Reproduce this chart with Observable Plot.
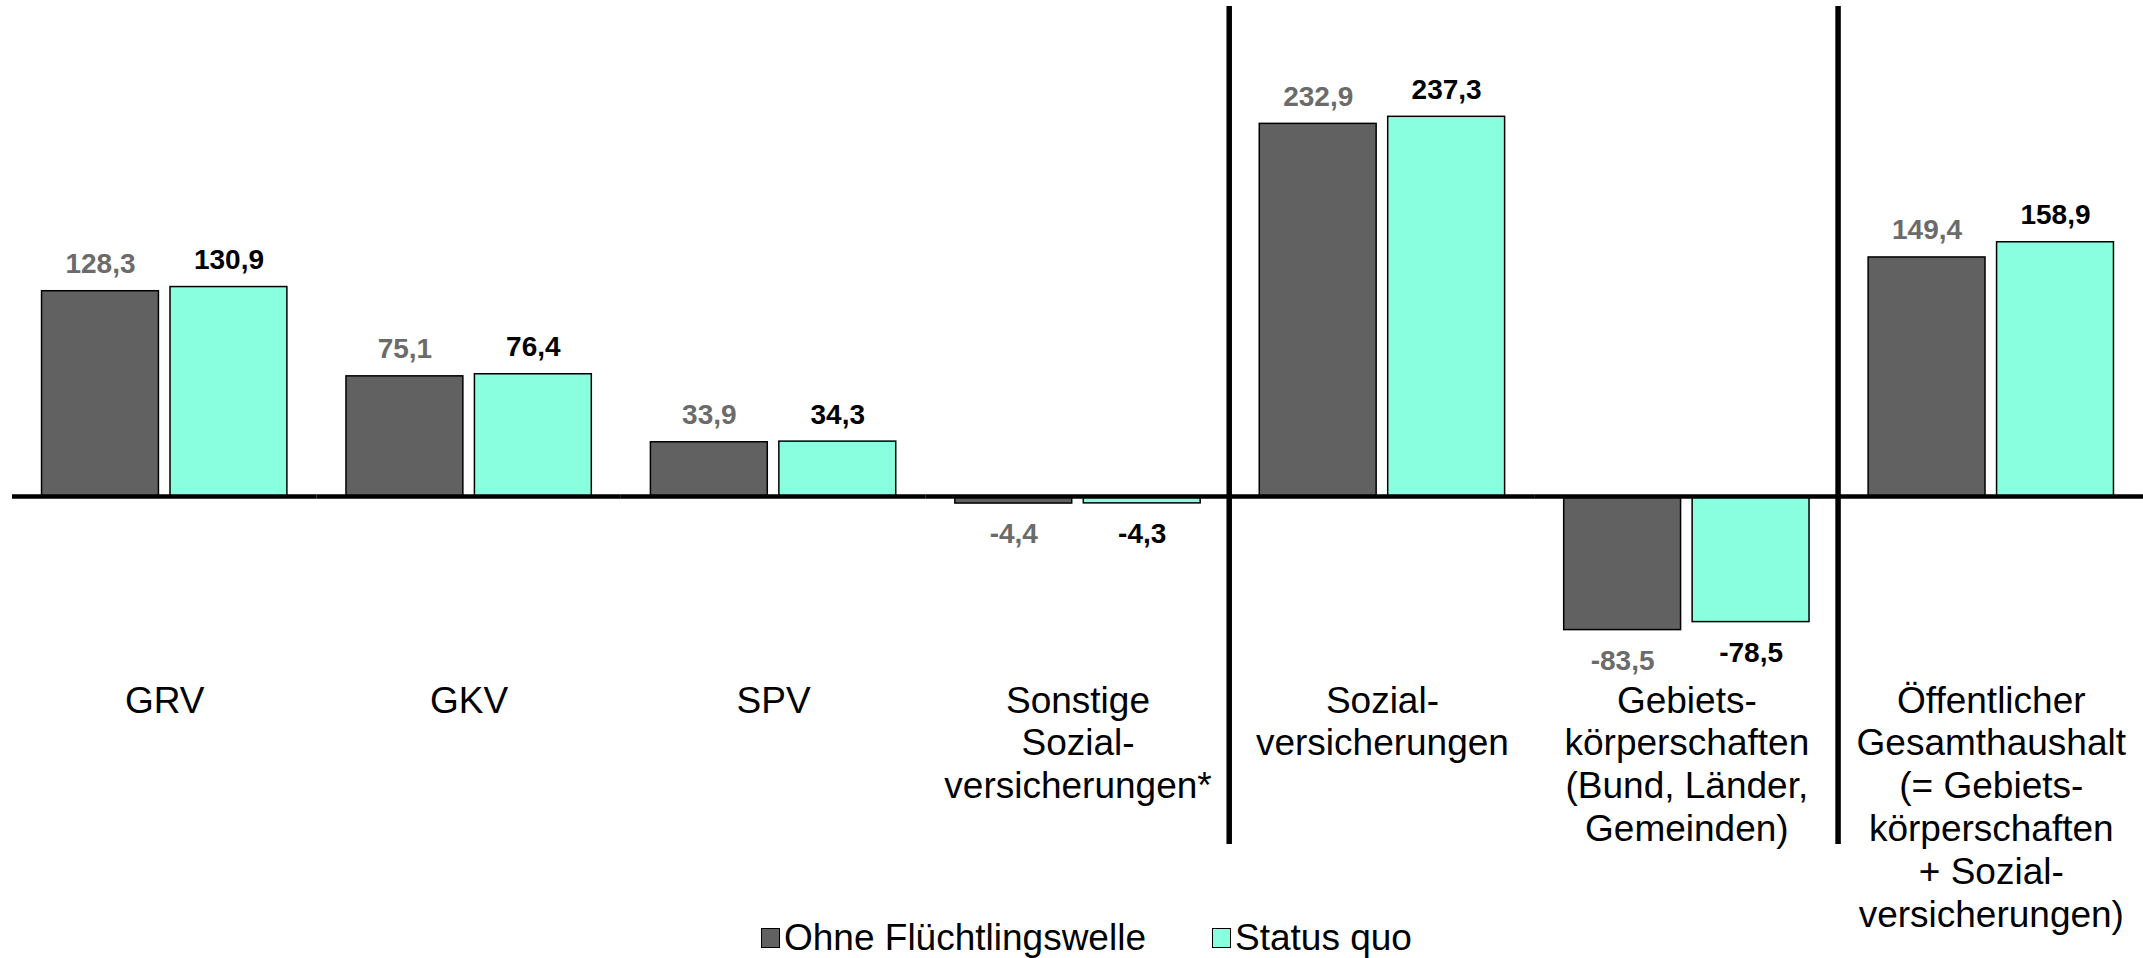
<!DOCTYPE html>
<html>
<head>
<meta charset="utf-8">
<script src="https://cdn.jsdelivr.net/npm/d3@7"></script>
<script src="https://cdn.jsdelivr.net/npm/@observablehq/plot@0.6"></script>
<style>
  html, body { margin: 0; padding: 0; background: #ffffff; }
  #wrap { position: relative; width: 2143px; height: 958px; overflow: hidden; font-family: "Liberation Sans", Arial, sans-serif; }
  #wrap svg { position: absolute; left: 0; top: 0; overflow: visible; }
  .legend-item { position: absolute; top: 919px; display: flex; align-items: center; font-size: 37px; line-height: 37px; color: #000; white-space: nowrap; }
  .legend-swatch { width: 17px; height: 18px; border: 1.5px solid #000; margin-right: 4px; box-sizing: content-box; }
</style>
</head>
<body>
<div id="wrap"></div>
<script>
// ---- Data ----
const categories = [
  "GRV",
  "GKV",
  "SPV",
  "Sonstige\nSozial-\nversicherungen*",
  "Sozial-\nversicherungen",
  "Gebiets-\nkörperschaften\n(Bund, Länder,\nGemeinden)",
  "Öffentlicher\nGesamthaushalt\n(= Gebiets-\nkörperschaften\n+ Sozial-\nversicherungen)"
];
const series = ["Ohne Flüchtlingswelle", "Status quo"];
const ohneFluechtlingswelle = [128.3, 75.1, 33.9, -4.4, 232.9, -83.5, 149.4];
const statusQuo = [130.9, 76.4, 34.3, -4.3, 237.3, -78.5, 158.9];
const separatorsBefore = [categories[4], categories[6]];

const barColors = ["#616161", "#8affe0"];
const labelColors = ["#6b6b6b", "#000000"];

// ---- Table built from the arrays ----
const rows = [];
categories.forEach((c, i) => {
  rows.push({category: c, series: series[0], value: ohneFluechtlingswelle[i]});
  rows.push({category: c, series: series[1], value: statusQuo[i]});
});

const W = 2143, H = 958, ML = 12, MR = 0;
const step = (W - ML - MR) / categories.length;
const fmt = v => v.toFixed(1).replace(".", ",");
const font = "Liberation Sans, Arial, sans-serif";
const catSize = 37, catLineHeight = 43 / 37;

function valueLabels(s, positive) {
  const idx = series.indexOf(s);
  return Plot.text(rows.filter(d => d.series === s && (positive ? d.value >= 0 : d.value < 0)), {
    fx: "category", x: "series", y: "value",
    text: d => fmt(d.value),
    fill: labelColors[idx],
    fontWeight: "bold",
    fontSize: 28,
    fontFamily: font,
    lineAnchor: positive ? "bottom" : "top",
    dy: positive ? -18 : 20
  });
}

const chart = Plot.plot({
  width: W,
  height: H,
  marginLeft: ML,
  marginRight: MR,
  marginTop: 0,
  marginBottom: 0,
  style: {fontFamily: font, background: "transparent", overflow: "visible"},
  fx: {domain: categories, padding: 0, round: false, axis: null, label: null},
  x: {domain: series, paddingInner: 0.09, paddingOuter: 0.23, round: false, axis: null, label: null},
  y: {domain: [-288.75, 310], axis: null, label: null},
  color: {domain: series, range: barColors},
  marks: [
    Plot.barY(rows, {
      fx: "category", x: "series", y: "value",
      fill: "series", stroke: "#000", strokeWidth: 1.5
    }),
    Plot.ruleY([0], {stroke: "#000", strokeWidth: 4.5}),
    Plot.ruleX(separatorsBefore, {
      fx: d => d, x: null,
      dx: -step / 2 - 1,
      insetTop: 6, insetBottom: 114,
      stroke: "#000", strokeWidth: 5.5
    }),
    valueLabels(series[0], true),
    valueLabels(series[1], true),
    valueLabels(series[0], false),
    valueLabels(series[1], false),
    Plot.text(categories, {
      fx: d => d,
      text: d => d,
      frameAnchor: "top",
      lineAnchor: "top",
      lineHeight: catLineHeight,
      dy: 712 - 0.71 * catLineHeight * catSize,
      fontSize: catSize,
      fontFamily: font,
      fill: "#000"
    })
  ]
});

const wrap = document.getElementById("wrap");
wrap.appendChild(chart);

// ---- Legend (HTML, overlaid at the bottom) ----
const legendLeft = [761, 1212];
series.forEach((s, i) => {
  const item = document.createElement("div");
  item.className = "legend-item";
  item.style.left = legendLeft[i] + "px";
  const sw = document.createElement("span");
  sw.className = "legend-swatch";
  sw.style.background = barColors[i];
  const tx = document.createElement("span");
  tx.textContent = s;
  item.appendChild(sw);
  item.appendChild(tx);
  wrap.appendChild(item);
});
</script>
</body>
</html>
